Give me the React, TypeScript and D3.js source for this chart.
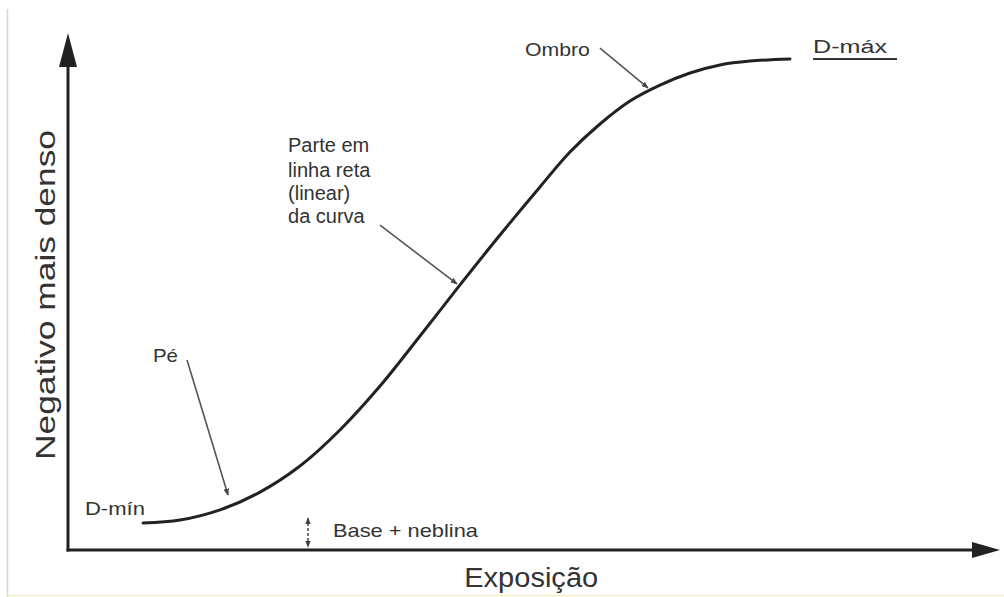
import { useRef, useEffect } from "react";
import { select, scaleLinear, line, curveCatmullRom } from "d3";

// characteristic curve (relative log exposure vs density)
const exposure = [0.805, 1.202, 1.631, 2.06, 2.489, 2.918, 3.348, 3.777, 4.206, 4.635, 5.064, 5.386, 5.708, 6.03, 6.352, 6.674, 6.996, 7.318, 7.747];
const density = [0.168, 0.186, 0.249, 0.36, 0.522, 0.746, 1.019, 1.33, 1.647, 1.957, 2.256, 2.473, 2.647, 2.79, 2.889, 2.964, 3.014, 3.038, 3.051];

// labels placed in data units
const labelText = ["Ombro", "D-máx", "Pé", "D-mín", "Base + neblina"];
const labelX = [4.903, 7.994, 0.912, 0.182, 2.843];
const labelY = [3.069, 3.088, 1.168, 0.217, 0.081];
const labelWidth = [65, 74, 25, 60, 145];

const blockLines = ["Parte em", "linha reta", "(linear)", "da curva"];
const blockY = [2.473, 2.318, 2.175, 2.032];
const blockX = 2.361;

// pointer arrows: [x1, y1, x2, y2]
const pointers = [
  [5.708, 3.119, 6.223, 2.871], // Ombro
  [3.348, 2.019, 4.174, 1.653], // linear part
  [1.277, 1.181, 1.717, 0.342], // Pé
];

const dmaxRule = [7.994, 8.895, 3.051];
const fogMark = [2.575, 0.199, 0.019];
const xTitleAt = 4.97;

const App = () => {
  const svgRef = useRef();

  useEffect(() => {
    const svg = select(svgRef.current);
    svg.selectAll("*").remove();

    const x = scaleLinear().domain([0, 10]).range([68, 1000]);
    const y = scaleLinear().domain([0, 3.2]).range([550, 35]);
    const ink = "#222";
    const txt = "#333";
    const font = "'Liberation Sans', Arial, sans-serif";

    const defs = svg.append("defs");
    const grad = defs.append("linearGradient").attr("id", "topEdge");
    grad.append("stop").attr("offset", "0%").attr("stop-color", "#7f8fc8");
    grad.append("stop").attr("offset", "50%").attr("stop-color", "#9cc890");
    grad.append("stop").attr("offset", "100%").attr("stop-color", "#e6e48a");
    defs.append("marker")
      .attr("id", "tip")
      .attr("viewBox", "0 0 10 10")
      .attr("refX", 9).attr("refY", 5)
      .attr("markerWidth", 7).attr("markerHeight", 7)
      .attr("markerUnits", "userSpaceOnUse")
      .attr("orient", "auto-start-reverse")
      .append("path").attr("d", "M0,1 L10,5 L0,9 Z").attr("fill", "#444");

    // scan border
    svg.append("rect").attr("width", 1004).attr("height", 597).attr("fill", "#fff");
    svg.append("line").attr("x1", 7).attr("x2", 1004).attr("y1", 9.5).attr("y2", 9.5)
      .attr("stroke", "url(#topEdge)").attr("stroke-width", 2);
    svg.append("line").attr("x1", 7.5).attr("x2", 7.5).attr("y1", 9).attr("y2", 597)
      .attr("stroke", "#d4d4d8").attr("stroke-width", 1.5);
    svg.append("line").attr("x1", 7).attr("x2", 1004).attr("y1", 595.5).attr("y2", 595.5)
      .attr("stroke", "#f3eec4").attr("stroke-width", 1.5);

    // axes with arrowheads
    const x0 = x(0), y0 = y(0), xEnd = x(10), yEnd = y(3.2);
    svg.append("line").attr("x1", x0).attr("x2", x0).attr("y1", y0 + 1.5).attr("y2", yEnd + 30)
      .attr("stroke", ink).attr("stroke-width", 3);
    svg.append("line").attr("x1", x0 - 1.5).attr("x2", xEnd - 26).attr("y1", y0).attr("y2", y0)
      .attr("stroke", ink).attr("stroke-width", 3);
    svg.append("path")
      .attr("d", `M${x0},${yEnd - 2} L${x0 + 9},${yEnd + 32} L${x0 - 9},${yEnd + 32} Z`)
      .attr("fill", ink);
    svg.append("path")
      .attr("d", `M${xEnd},${y0} L${xEnd - 28},${y0 - 8} L${xEnd - 28},${y0 + 8} Z`)
      .attr("fill", ink);

    // the curve
    const pts = exposure.map((e, i) => [e, density[i]]);
    svg.append("path")
      .datum(pts)
      .attr("d", line().x(d => x(d[0])).y(d => y(d[1])).curve(curveCatmullRom.alpha(0.5)))
      .attr("fill", "none").attr("stroke", ink).attr("stroke-width", 3)
      .attr("stroke-linecap", "round");

    // pointers
    svg.selectAll(".pointer")
      .data(pointers)
      .join("line")
      .attr("class", "pointer")
      .attr("x1", d => x(d[0])).attr("y1", d => y(d[1]))
      .attr("x2", d => x(d[2])).attr("y2", d => y(d[3]))
      .attr("stroke", "#555").attr("stroke-width", 1.6)
      .attr("marker-end", "url(#tip)");

    // D-max rule
    svg.append("line")
      .attr("x1", x(dmaxRule[0])).attr("x2", x(dmaxRule[1]))
      .attr("y1", y(dmaxRule[2])).attr("y2", y(dmaxRule[2]))
      .attr("stroke", "#333").attr("stroke-width", 2);

    // base + fog marker
    svg.append("line")
      .attr("x1", x(fogMark[0])).attr("x2", x(fogMark[0]))
      .attr("y1", y(fogMark[1])).attr("y2", y(fogMark[2]))
      .attr("stroke", "#444").attr("stroke-width", 1.5)
      .attr("stroke-dasharray", "3,2")
      .attr("marker-start", "url(#tip)").attr("marker-end", "url(#tip)");

    // labels
    svg.selectAll(".lbl")
      .data(labelText)
      .join("text")
      .attr("class", "lbl")
      .attr("x", (_, i) => x(labelX[i]))
      .attr("y", (_, i) => y(labelY[i]))
      .attr("textLength", (_, i) => labelWidth[i])
      .attr("lengthAdjust", "spacingAndGlyphs")
      .attr("font-family", font).attr("font-size", 19).attr("fill", txt)
      .text(d => d);

    svg.selectAll(".blk")
      .data(blockLines)
      .join("text")
      .attr("class", "blk")
      .attr("x", x(blockX))
      .attr("y", (_, i) => y(blockY[i]))
      .attr("font-family", font).attr("font-size", 20).attr("fill", txt)
      .text(d => d);

    // axis titles
    svg.append("text")
      .attr("x", x(xTitleAt)).attr("y", y0 + 37)
      .attr("text-anchor", "middle")
      .attr("textLength", 134).attr("lengthAdjust", "spacingAndGlyphs")
      .attr("font-family", font).attr("font-size", 27).attr("fill", txt)
      .text("Exposição");

    svg.append("text")
      .attr("transform", `translate(55,${(130 + 460) / 2}) rotate(-90)`)
      .attr("text-anchor", "middle")
      .attr("textLength", 330).attr("lengthAdjust", "spacingAndGlyphs")
      .attr("font-family", font).attr("font-size", 27).attr("fill", txt)
      .text("Negativo mais denso");
  }, []);

  return (
    <div style={{ position: "absolute", left: 0, top: 0 }}>
      <svg ref={svgRef} width={1004} height={597} style={{ display: "block" }}></svg>
    </div>
  );
};

export default App;
